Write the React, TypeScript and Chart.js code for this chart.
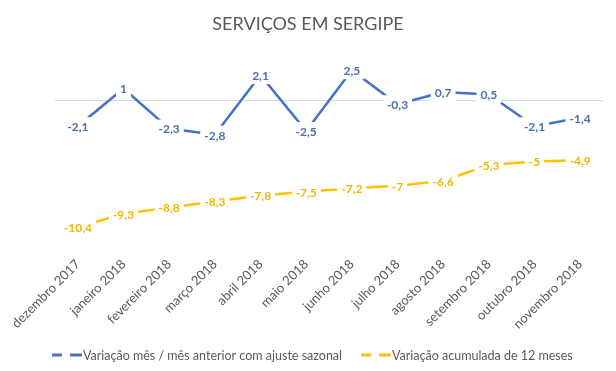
import React, { useEffect, useRef } from "react";
import { Chart, registerables } from "chart.js";

Chart.register(...registerables);

const title = "SERVIÇOS EM SERGIPE";
const categories = [
  "dezembro 2017",
  "janeiro 2018",
  "fevereiro 2018",
  "março 2018",
  "abril 2018",
  "maio 2018",
  "junho 2018",
  "julho 2018",
  "agosto 2018",
  "setembro 2018",
  "outubro 2018",
  "novembro 2018",
];
const monthlyVariation = [-2.1, 1, -2.3, -2.8, 2.1, -2.5, 2.5, -0.3, 0.7, 0.5, -2.1, -1.4];
const accumulated12m = [-10.4, -9.3, -8.8, -8.3, -7.8, -7.5, -7.2, -7, -6.6, -5.3, -5, -4.9];
const seriesNames = [
  "Variação mês / mês anterior com ajuste sazonal",
  "Variação acumulada de 12 meses",
];
const seriesColors = ["#4472C4", "#FFC000"];
const labelColors = ["#4A6DB5", "#F2B705"];
const yMin = -12;
const yMax = 4;

const FONT = "Lato, 'Noto Sans', sans-serif";
const fmt = (v: number) => String(v).replace(".", ",");

const labelPlugin = {
  id: "pointLabels",
  afterDatasetsDraw(chart: any) {
    const ctx = chart.ctx;
    ctx.save();
    ctx.font = `bold 12px ${FONT}`;
    ctx.textAlign = "center";
    ctx.textBaseline = "middle";
    chart.data.datasets.forEach((ds: any, di: number) => {
      const meta = chart.getDatasetMeta(di);
      meta.data.forEach((el: any, i: number) => {
        const txt = fmt(ds.data[i]);
        const w = ctx.measureText(txt).width;
        ctx.fillStyle = "#ffffff";
        ctx.fillRect(el.x - w / 2 - 4, el.y - 9, w + 8, 18);
        ctx.fillStyle = labelColors[di];
        ctx.fillText(txt, el.x, el.y + 1);
      });
    });
    ctx.restore();
  },
};

const titleLegendPlugin = {
  id: "titleLegend",
  afterDraw(chart: any) {
    const ctx = chart.ctx;
    ctx.save();
    ctx.font = `18px ${FONT}`;
    ctx.fillStyle = "#595959";
    ctx.textAlign = "center";
    ctx.textBaseline = "middle";
    ctx.fillText(title, chart.width / 2, 24);

    const y = 355;
    const starts = [52, 361];
    ctx.font = `12.5px ${FONT}`;
    ctx.textAlign = "left";
    seriesNames.forEach((name, i) => {
      const x = starts[i];
      ctx.strokeStyle = seriesColors[i];
      ctx.lineWidth = 3;
      ctx.beginPath();
      ctx.moveTo(x, y);
      ctx.lineTo(x + 10, y);
      ctx.moveTo(x + 18, y);
      ctx.lineTo(x + 30, y);
      ctx.stroke();
      ctx.fillStyle = "#595959";
      ctx.fillText(name, x + 31, y + 1);
    });
    ctx.restore();
  },
};

export default function App() {
  const ref = useRef<HTMLCanvasElement | null>(null);
  useEffect(() => {
    if (!ref.current) return;
    const chart = new Chart(ref.current, {
      type: "line",
      data: {
        labels: categories,
        datasets: [
          {
            label: seriesNames[0],
            data: monthlyVariation,
            borderColor: seriesColors[0],
            backgroundColor: seriesColors[0],
            borderWidth: 2.5,
            pointRadius: 0,
            tension: 0,
          },
          {
            label: seriesNames[1],
            data: accumulated12m,
            borderColor: seriesColors[1],
            backgroundColor: seriesColors[1],
            borderWidth: 2.5,
            pointRadius: 0,
            tension: 0,
          },
        ],
      },
      options: {
        responsive: false,
        animation: false,
        layout: { padding: { left: 55, right: 13, top: 52, bottom: 37 } },
        plugins: {
          legend: { display: false },
          tooltip: { enabled: false },
          title: { display: false },
        },
        scales: {
          x: {
            offset: true,
            grid: { display: false },
            border: { display: false },
            ticks: {
              color: "#595959",
              font: { family: FONT, size: 13 },
              minRotation: 45,
              maxRotation: 45,
              padding: 2,
              autoSkip: false,
            },
          },
          y: {
            min: yMin,
            max: yMax,
            border: { display: false },
            ticks: { display: false, stepSize: 2 },
            grid: {
              color: (c: any) => (c.tick && c.tick.value === 0 ? "#D9D9D9" : "rgba(0,0,0,0)"),
              lineWidth: 1,
              drawTicks: false,
            },
          },
        },
      },
      plugins: [labelPlugin, titleLegendPlugin],
    });
    return () => chart.destroy();
  }, []);
  return (
    <div style={{ position: "fixed", left: 0, top: 0, width: 616, height: 371, background: "#fff" }}>
      <canvas ref={ref} width={616} height={371} />
    </div>
  );
}
